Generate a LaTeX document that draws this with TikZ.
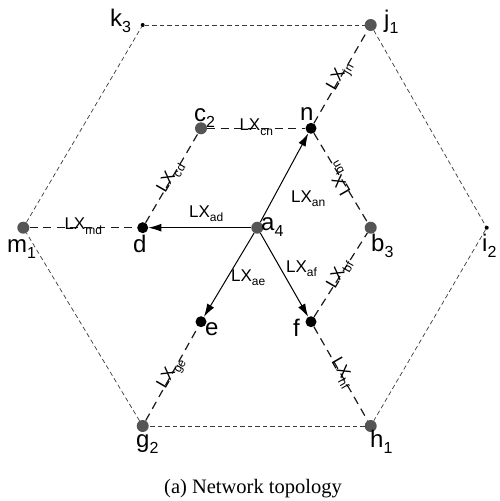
\documentclass[tikz,border=0pt]{standalone}
\usepackage{fontspec}
\setmainfont{Liberation Serif}
\newfontfamily\lsans{Liberation Sans}
\usetikzlibrary{arrows.meta}
\definecolor{dotgray}{HTML}{555555}
\definecolor{hexgray}{HTML}{3a3a3a}
\newcommand\NL[2]{{\lsans\fontsize{24}{24}\selectfont #1\raisebox{-6.5pt}{\fontsize{16}{16}\selectfont #2}}}
\newcommand\LXs[1]{{\lsans\fontsize{17}{17}\selectfont LX\raisebox{-4.5pt}{\fontsize{12}{12}\selectfont #1}}}
\begin{document}
\begin{tikzpicture}[x=1pt,y=-1pt,
 graydot/.style={circle,fill=dotgray,inner sep=0,minimum size=12pt},
 blackdot/.style={circle,fill=black,inner sep=0,minimum size=11pt},
 smalldot/.style={circle,fill=black,inner sep=0,minimum size=4pt},
 outer/.style={draw=hexgray,line width=0.7pt,dash pattern=on 4.5pt off 3pt},
 inner/.style={draw=black!90,line width=1.2pt,dash pattern=on 8pt off 5.5pt},
 arr/.style={draw=black,line width=1pt,-{Latex[length=13pt,width=8pt]}},
 nlab/.style={inner sep=0,anchor=base west},
 elab/.style={inner sep=0,anchor=mid},
 ]
\useasboundingbox (0,0) rectangle (499,501);
\node[smalldot] (k3) at (142.7,25) {};
\node[graydot] (j1) at (370.7,25) {};
\node[smalldot] (i2) at (486.7,227.7) {};
\node[graydot] (h1) at (370.7,426) {};
\node[graydot] (g2) at (142.7,426) {};
\node[graydot] (m1) at (23.3,227.7) {};
\node[graydot] (c2) at (201,128.3) {};
\node[blackdot] (n) at (311,128.3) {};
\node[graydot] (b3) at (370.7,227.7) {};
\node[blackdot] (f) at (311,321.7) {};
\node[blackdot] (e) at (201,321.7) {};
\node[blackdot] (d) at (142.7,227.7) {};
\node[graydot] (a4) at (257.3,227.7) {};

\draw[outer] (k3) -- (j1);
\draw[outer] (j1) -- (i2);
\draw[outer] (i2) -- (h1);
\draw[outer] (h1) -- (g2);
\draw[outer] (g2) -- (m1);
\draw[outer] (m1) -- (k3);

\draw[inner] (c2) -- (n) node[midway,elab]{\LXs{cn}};
\draw[inner] (n) -- (j1) node[midway,elab,rotate=60]{\LXs{jn}};
\draw[inner] (n) -- (b3) node[midway,elab,rotate=120]{\LXs{bn}};
\draw[inner] (f) -- (b3) node[midway,elab,rotate=60]{\LXs{bf}};
\draw[inner] (f) -- (h1) node[midway,elab,rotate=-60]{\LXs{hf}};
\draw[inner] (g2) -- (e) node[midway,elab,rotate=60]{\LXs{ge}};
\draw[inner] (d) -- (c2) node[midway,elab,rotate=60]{\LXs{cd}};
\draw[inner] (m1) -- (d) node[midway,elab]{\LXs{md}};

\draw[arr] (a4) -- (n);
\draw[arr] (a4) -- (d);
\draw[arr] (a4) -- (e);
\draw[arr] (a4) -- (f);

\node[nlab] (lk3) at (110,26) {\NL{k}{3}};
\node[nlab] (lj1) at (384,27) {\NL{j}{1}};
\node[nlab] (li2) at (482,251) {\NL{i}{2}};
\node[nlab] (lb3) at (371,251) {\NL{b}{3}};
\node[nlab] (lh1) at (370,447) {\NL{h}{1}};
\node[nlab] (lg2) at (136,447) {\NL{g}{2}};
\node[nlab] (lm1) at (7,252) {\NL{m}{1}};
\node[nlab] (ld) at (133,252) {\NL{d}{}};
\node[nlab] (lc2) at (194,121) {\NL{c}{2}};
\node[nlab] (ln) at (300,120) {\NL{n}{}};
\node[nlab] (la4) at (261,230) {\NL{a}{4}};
\node[nlab] (le) at (205,335) {\NL{e}{}};
\node[nlab] (lf) at (293,336) {\NL{f}{}};

\node[nlab] (lad) at (189,217) {\LXs{ad}};
\node[nlab] (lan) at (291,202) {\LXs{an}};
\node[nlab] (laf) at (286,272) {\LXs{af}};
\node[nlab] (lae) at (231,281) {\LXs{ae}};

\node[anchor=base,inner sep=0,font=\fontsize{20.5}{20.5}\selectfont] (cap) at (253,493) {(a) Network topology};
\end{tikzpicture}
\end{document}
